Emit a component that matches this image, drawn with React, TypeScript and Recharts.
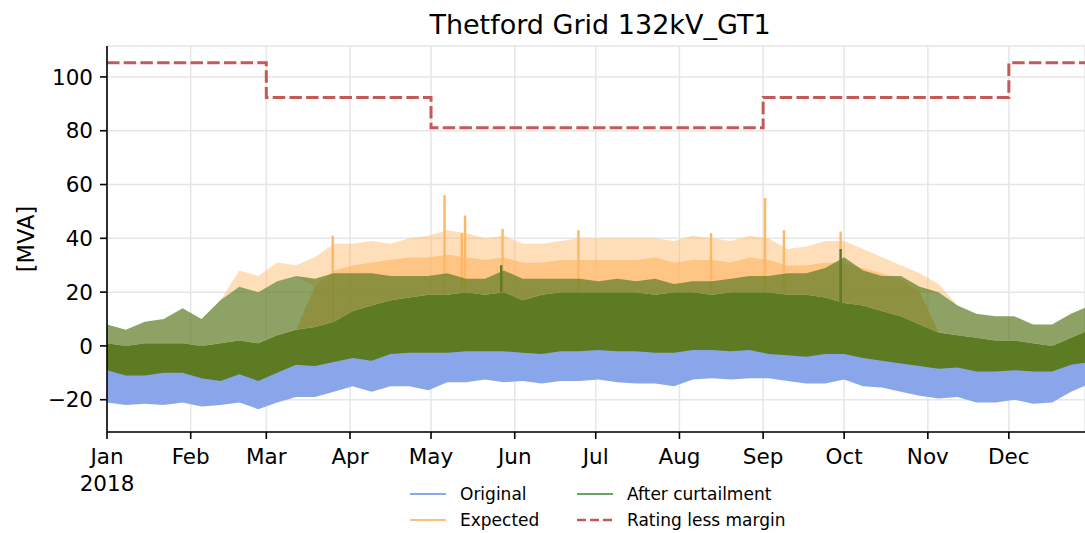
import React from "react";
import { ComposedChart, Area, Line, XAxis, YAxis, CartesianGrid } from "recharts";

// x values are days since Mon 1 Jan 2018
const monthTicks = [0, 31, 59, 90, 120, 151, 181, 212, 243, 273, 304, 334];
const monthLabels = ["Jan", "Feb", "Mar", "Apr", "May", "Jun", "Jul", "Aug", "Sep", "Oct", "Nov", "Dec"];
const yTicks = [-20, 0, 20, 40, 60, 80, 100];

// one sample per week (Mondays), also used for the minor ticks
const weekDays = Array.from({ length: 53 }, (_, i) => i * 7);

// Original: weekly low / high envelope [MVA]
const originalLow = [
  -21, -22, -21.5, -22, -21, -22.5, -22, -21, -23.5, -21, -19, -19, -17, -15, -17, -15, -15, -16.5,
  -13.5, -13.5, -12.5, -13.5, -13, -14, -13, -13, -12.5, -13.5, -14, -14, -15, -12.5, -12, -12.5,
  -12, -12, -13, -14, -14, -12.5, -15, -15.5, -17, -18.5, -19.5, -19, -21, -21, -20, -21.5, -21, -17, -14,
];
const originalHigh = [
  -6, -6, -6, -6, -6, -6, -6, -6, -6, -5, -5, -4, -3, -2, -2, -2, -2, 1, 1, 1, 1, 1, 1, 1, 1, 1, 1,
  1, 1, 1, 1, 1, 1, 1, 1, 1, 1, 1, 1, 0, -1, -2, -3, -5, -5, -5, -5, -5, -5, -5, -5, -2, 0,
];

// After curtailment: weekly low, dense top and spike top
const curtailedLow = [
  -9, -11, -11, -10, -10, -12, -13, -10.5, -13, -10, -7, -7.5, -6, -4.5, -5.5, -3, -2.5, -2.5, -2.5,
  -2, -2, -2, -2.5, -3, -2, -2, -1.5, -2, -2, -2.5, -2.5, -1.5, -1.5, -2, -1.5, -3, -3.5, -4, -3, -3,
  -4.5, -5.5, -6.5, -7.5, -8.5, -8, -9.5, -9.5, -9, -9.5, -9.5, -7, -6,
];
const curtailedHigh = [
  1, 0, 1, 1, 1, 0, 1, 2, 1, 4, 6, 7, 9, 13, 15, 17, 18, 19, 19, 20, 19, 20, 17, 19, 20, 20, 20, 20,
  20, 19, 20, 20, 19, 20, 20, 20, 19, 19, 18, 16, 15, 13, 11, 8, 5, 4, 3, 2, 2, 1, 0, 3, 6,
];
const curtailedPeak = [
  8, 6, 9, 10, 14, 10, 17, 22, 20, 24, 26, 25, 27, 27, 27, 26, 26, 26, 27, 25, 25, 28, 25, 25, 25,
  25, 24, 25, 24, 25, 23, 24, 24, 25, 26, 26, 27, 27, 29, 33, 28, 26, 26, 22, 20, 15, 12, 11, 11, 8,
  8, 12, 15,
];

// Expected: dense top and spike top (null = no curtailment that week)
const expectedHigh = [
  null, null, null, null, null, null, null, null, null, null, null, 22, 28, 30, 31, 32, 33, 33, 34,
  33, 32, 33, 31, 31, 32, 32, 32, 32, 32, 33, 31, 32, 32, 31, 33, 32, 30, 30, 31, 31, 29, 27, 25,
  20, null, null, null, null, null, null, null, null, null,
];
const expectedPeak = [
  null, null, null, null, null, null, null, 28, 26, 31, 30, 33, 38, 38, 39, 38, 40, 41, 43, 42, 40,
  41, 38, 38, 39, 40, 40, 40, 40, 40, 39, 41, 40, 39, 41, 40, 36, 37, 39, 39, 36, 33, 30, 27, 23,
  null, null, null, null, null, null, null, null,
];

// single tall spikes
const expectedSpikes = [
  { day: 83.6, value: 41 },
  { day: 125, value: 56 },
  { day: 131.4, value: 42 },
  { day: 132.6, value: 48.5 },
  { day: 146.5, value: 43.5 },
  { day: 174.6, value: 43 },
  { day: 223.7, value: 42 },
  { day: 243.7, value: 55 },
  { day: 250.7, value: 43 },
  { day: 271.7, value: 42.5 },
];
const curtailedSpikes = [
  { day: 146, value: 30 },
  { day: 271.7, value: 36 },
];

const ratingDays = [0, 59, 120, 243, 334, 365];
const ratingValues = [105.3, 92.4, 81.1, 92.4, 105.3, 105.3];

const weekly = weekDays.map((day, i) => {
  const gHi = curtailedHigh[i];
  const gPk = curtailedPeak[i];
  const eHi = expectedHigh[i] ?? gHi;
  const eBase = expectedHigh[i] ?? gPk;
  const ePk = expectedPeak[i] ?? eBase;
  return {
    day,
    original: [originalLow[i], originalHigh[i]],
    expected: [gHi, eHi],
    expectedTop: [eBase, Math.max(eBase, ePk)],
    curtailed: [curtailedLow[i], gHi],
    curtailedTop: [gHi, gPk],
  };
});

const spikeRows = (spikes: { day: number; value: number }[]) =>
  spikes.flatMap(({ day, value }) => {
    const b = curtailedHigh[Math.round(day / 7)];
    return [
      { day: day - 0.45, band: [b, b] },
      { day: day - 0.45, band: [b, value] },
      { day: day + 0.45, band: [b, value] },
      { day: day + 0.45, band: [b, b] },
    ];
  });

const ratingData = ratingDays.map((day, i) => ({ day, rating: ratingValues[i] }));

const FONT = "DejaVu Sans";
const BLUE = "#8aa6ea";
const ORANGE = "#ffb766";
const OLIVE = "#5d7b22";
const RED = "#c45a57";

const MonthTick = (props: any) => {
  const { x, y, payload, index } = props;
  return (
    <text x={x} y={y} textAnchor="middle" fontSize={21.5} fill="#000" fontFamily={FONT}>
      <tspan x={x} dy="0.71em">
        {monthLabels[monthTicks.indexOf(payload.value)]}
      </tspan>
      {index === 0 && (
        <tspan x={x} dy="1.26em">
          2018
        </tspan>
      )}
    </text>
  );
};

const ValueTick = (props: any) => {
  const { x, y, payload } = props;
  const v = payload.value;
  return (
    <text x={x} y={y} dy="0.36em" textAnchor="end" fontSize={21.5} fill="#000" fontFamily={FONT}>
      {v < 0 ? `\u2212${-v}` : `${v}`}
    </text>
  );
};

const legendItems = [
  { name: "Original", color: "#8aa8f0", dash: undefined, x: 410, y: 494 },
  { name: "Expected", color: "#ffc080", dash: undefined, x: 410, y: 520 },
  { name: "After curtailment", color: "#64a864", dash: undefined, x: 577, y: 494 },
  { name: "Rating less margin", color: RED, dash: "9 4", x: 577, y: 520 },
];

export default function App() {
  return (
    <div style={{ position: "relative", width: 1085, height: 533, overflow: "hidden" }}>
      <style>{"body{margin:0;overflow:hidden}"}</style>
      <ComposedChart
        width={1085}
        height={533}
        margin={{ top: 46, right: 0, bottom: 41, left: 0 }}
        style={{ fontFamily: FONT }}
      >
        <CartesianGrid stroke="#e6e6e6" strokeWidth={1.5} />
        <XAxis
          xAxisId="minor"
          type="number"
          dataKey="day"
          domain={[0, 362.2]}
          allowDataOverflow
          ticks={weekDays}
          interval={0}
          tick={false}
          tickSize={4}
          axisLine={false}
          tickLine={{ stroke: "#000", strokeWidth: 1.2 }}
          height={0}
        />
        <XAxis
          type="number"
          dataKey="day"
          domain={[0, 362.2]}
          allowDataOverflow
          ticks={monthTicks}
          interval={0}
          tick={<MonthTick />}
          tickSize={7}
          tickMargin={10}
          axisLine={{ stroke: "#000", strokeWidth: 1.6 }}
          tickLine={{ stroke: "#000", strokeWidth: 1.6 }}
          height={60}
        />
        <YAxis
          type="number"
          domain={[-32, 111.5]}
          allowDataOverflow
          ticks={yTicks}
          interval={0}
          width={107}
          tickSize={7}
          tickMargin={7}
          tick={<ValueTick />}
          axisLine={{ stroke: "#000", strokeWidth: 1.6 }}
          tickLine={{ stroke: "#000", strokeWidth: 1.6 }}
        />
        <Area data={weekly} dataKey="original" type="linear" stroke="none" fill={BLUE} fillOpacity={1} isAnimationActive={false} dot={false} activeDot={false} />
        <Area data={weekly} dataKey="expectedTop" type="linear" stroke="none" fill={ORANGE} fillOpacity={0.45} isAnimationActive={false} dot={false} activeDot={false} />
        <Area data={weekly} dataKey="expected" type="linear" stroke="none" fill={ORANGE} fillOpacity={0.8} isAnimationActive={false} dot={false} activeDot={false} />
        <Area data={spikeRows(expectedSpikes)} dataKey="band" type="linear" stroke="none" fill={ORANGE} fillOpacity={1} isAnimationActive={false} dot={false} activeDot={false} />
        <Area data={weekly} dataKey="curtailed" type="linear" stroke="none" fill={OLIVE} fillOpacity={1} isAnimationActive={false} dot={false} activeDot={false} />
        <Area data={weekly} dataKey="curtailedTop" type="linear" stroke="none" fill={OLIVE} fillOpacity={0.7} isAnimationActive={false} dot={false} activeDot={false} />
        <Area data={spikeRows(curtailedSpikes)} dataKey="band" type="linear" stroke="none" fill={OLIVE} fillOpacity={1} isAnimationActive={false} dot={false} activeDot={false} />
        <Line
          data={ratingData}
          dataKey="rating"
          type="stepAfter"
          stroke={RED}
          strokeWidth={3}
          strokeDasharray="12.5 4.2"
          dot={false}
          activeDot={false}
          isAnimationActive={false}
        />
      </ComposedChart>
      <svg
        width={1085}
        height={533}
        style={{ position: "absolute", left: 0, top: 0, pointerEvents: "none" }}
        fontFamily={FONT}
      >
        <text x={600} y={34} textAnchor="middle" fontSize={27} fill="#000">
          Thetford Grid 132kV_GT1
        </text>
        <text transform="translate(34,239) rotate(-90)" textAnchor="middle" fontSize={22.5} fill="#000">
          [MVA]
        </text>
        {legendItems.map((it) => (
          <g key={it.name}>
            <line
              x1={it.x}
              x2={it.x + 36}
              y1={it.y}
              y2={it.y}
              stroke={it.color}
              strokeWidth={it.dash ? 2.6 : 2}
              strokeDasharray={it.dash}
            />
            <text x={it.x + 50} y={it.y + 6} fontSize={17} fill="#000">
              {it.name}
            </text>
          </g>
        ))}
      </svg>
    </div>
  );
}
